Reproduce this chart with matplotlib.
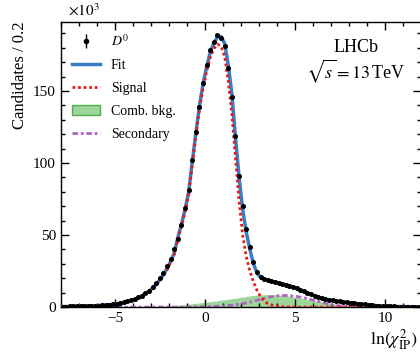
import numpy as np
import matplotlib
matplotlib.use("Agg")
import matplotlib.pyplot as plt
from matplotlib.patches import Patch
from matplotlib.ticker import MultipleLocator

plt.rcParams['font.family'] = 'serif'
plt.rcParams['font.serif'] = ['Liberation Serif', 'DejaVu Serif']
plt.rcParams['mathtext.fontset'] = 'stix'

# bin centres, bin width 0.2
x_bins = np.arange(-7.9, 12.0, 0.2)

# data (x10^3 candidates)
data = [0.4, 0.4, 0.5, 0.5, 0.6, 0.6, 0.7, 0.8, 0.9, 1.0,
        1.1, 1.3, 1.5, 1.8, 2.0, 2.4, 2.8, 3.3, 3.9, 4.7,
        5.6, 6.7, 8.0, 9.6, 11.5, 13.9, 16.6, 20.0, 24.0, 28.5,
        33.5, 40.0, 47.5, 57.0, 69.0, 81.0, 102.0, 121.5, 139.0, 155.5,
        168.0, 178.5, 184.0, 189.0, 187.0, 181.0, 166.0, 146.0, 119.0, 91.0,
        70.0, 54.5, 42.0, 31.5, 24.5, 21.0, 19.6, 18.8, 18.2, 17.5,
        16.9, 16.3, 15.6, 14.9, 14.1, 13.1, 12.0, 11.0, 10.0, 8.9,
        7.9, 7.0, 6.2, 5.6, 5.1, 4.6, 4.3, 3.9, 3.7, 3.4,
        3.1, 2.8, 2.5, 2.2, 1.9, 1.7, 1.4, 1.1, 0.9, 0.7,
        0.6, 0.5, 0.5, 0.4, 0.4, 0.3, 0.3, 0.3, 0.2, 0.2]

fit = [0.4, 0.4, 0.5, 0.5, 0.6, 0.6, 0.7, 0.8, 0.9, 1.0,
       1.1, 1.3, 1.5, 1.7, 2.0, 2.3, 2.7, 3.2, 3.8, 4.5,
       5.4, 6.5, 7.8, 9.3, 11.1, 13.3, 15.9, 19.0, 22.6, 26.8,
       31.8, 37.6, 48.5, 57.5, 68.0, 80.0, 101.0, 121.0, 140.0, 155.0,
       167.0, 177.0, 183.5, 187.5, 187.8, 183.0, 168.0, 148.0, 118.0, 90.0,
       68.0, 52.0, 40.0, 30.0, 23.5, 20.5, 19.3, 18.6, 18.0, 17.4,
       16.8, 16.2, 15.5, 14.8, 14.0, 13.0, 12.0, 11.0, 9.9, 8.8,
       7.8, 6.9, 6.1, 5.5, 5.0, 4.6, 4.2, 3.9, 3.6, 3.3,
       3.0, 2.7, 2.4, 2.1, 1.8, 1.7, 1.4, 1.1, 0.9, 0.7,
       0.6, 0.5, 0.5, 0.4, 0.4, 0.3, 0.3, 0.3, 0.2, 0.2]

signal = [0.4, 0.4, 0.5, 0.5, 0.6, 0.6, 0.7, 0.8, 0.9, 1.0,
          1.1, 1.3, 1.5, 1.7, 2.0, 2.3, 2.7, 3.2, 3.8, 4.5,
          5.4, 6.5, 7.7, 9.2, 11.0, 13.1, 15.6, 18.6, 22.1, 26.2,
          31.0, 36.6, 47.3, 56.1, 66.4, 78.2, 99.0, 118.8, 137.5, 152.2,
          163.8, 173.5, 179.5, 182.5, 181.0, 174.0, 157.0, 134.0, 104.0, 74.0,
          50.0, 35.0, 25.0, 17.5, 11.5, 7.0, 4.2, 2.5, 1.5, 0.9,
          0.5, 0.3, 0.2, 0.1, 0.1, 0.1, 0.0, 0.0, 0.0, 0.0,
          0.0, 0.0, 0.0, 0.0, 0.0, 0.0, 0.0, 0.0, 0.0, 0.0,
          0.0, 0.0, 0.0, 0.0, 0.0, 0.0, 0.0, 0.0, 0.0, 0.0,
          0.0, 0.0, 0.0, 0.0, 0.0, 0.0, 0.0, 0.0, 0.0, 0.0]

# background components on a coarser grid
x_bkg = np.arange(-8.0, 12.25, 0.5)
comb = [0, 0, 0, 0, 0, 0, 0, 0, 0,
        0.05, 0.2, 0.45, 0.75, 1.25, 1.9, 2.6, 3.3, 4.1, 4.9,
        5.8, 6.8, 7.8, 8.4, 8.7, 8.5, 7.9, 7.0, 5.9, 4.8,
        3.7, 2.6, 1.7, 1.0, 0.55, 0.3, 0.15, 0.08, 0.04, 0.02, 0.01, 0]
secondary = [0, 0, 0, 0, 0, 0, 0, 0, 0, 0, 0, 0, 0, 0,
             0.05, 0.15, 0.3, 0.5, 0.8, 1.3, 2.2, 3.4, 5.1, 6.8,
             7.8, 8.1, 7.6, 6.5, 4.9, 3.3, 1.8, 0.8, 0.35, 0.15, 0.05,
             0, 0, 0, 0, 0, 0]

data = np.array(data)
yerr = np.sqrt(data * 1000) / 1000

fig = plt.figure(figsize=(4.2, 3.53), dpi=100)
ax = fig.add_axes([0.145, 0.130, 0.857, 0.808])

ax.fill_between(x_bkg, comb, color='#9dd69a', linewidth=0, zorder=1)
ax.plot(x_bkg, secondary, color='#b062c0', linestyle=(0, (2, 1, 1, 1)), lw=2, zorder=2)
ax.plot(x_bins, fit, color='#3a7dc2', lw=2.5, zorder=3)
ax.plot(x_bins, signal, color='#e8191b', linestyle=(0, (1, 1)), lw=2, zorder=4)
ax.errorbar(x_bins, data, yerr=yerr, fmt='o', color='black', ms=2.6, elinewidth=1, zorder=5)

ax.set_xlim(-8, 12)
ax.set_ylim(0, 198)
ax.xaxis.set_major_locator(MultipleLocator(5))
ax.xaxis.set_minor_locator(MultipleLocator(1))
ax.yaxis.set_major_locator(MultipleLocator(50))
ax.yaxis.set_minor_locator(MultipleLocator(10))
ax.tick_params(which='both', direction='in', top=True, right=True, labelsize=11)
ax.tick_params(which='major', length=6, width=1)
ax.tick_params(which='minor', length=3, width=1)
for s in ax.spines.values():
    s.set_linewidth(1)

ax.set_ylabel('Candidates / 0.2', fontsize=12, loc='top')
ax.set_xlabel(r'$\ln(\chi^2_{\rm IP})$', fontsize=13, loc='right')
ax.xaxis.set_label_coords(0.99, -0.072)
ax.text(0.02, 1.01, r'$\times10^{3}$', transform=ax.transAxes, fontsize=11, va='bottom', ha='left')

ax.text(0.82, 0.91, 'LHCb', transform=ax.transAxes, fontsize=13, ha='center', va='center')
ax.text(0.82, 0.825, r'$\sqrt{s} = 13\,$TeV', transform=ax.transAxes, fontsize=13, ha='center', va='center')

h_data = ax.errorbar([], [], yerr=[], fmt='o', color='black', ms=3, elinewidth=1)
h_fit, = ax.plot([], [], color='#3a7dc2', lw=2.5)
h_sig, = ax.plot([], [], color='#e8191b', linestyle=(0, (1, 1)), lw=2)
h_comb = Patch(facecolor='#9dd69a', edgecolor='#4caf50')
h_sec, = ax.plot([], [], color='#b062c0', linestyle=(0, (2, 1, 1, 1)), lw=2)
ax.legend([h_data, h_fit, h_sig, h_comb, h_sec],
          [r'$D^0$', 'Fit', 'Signal', 'Comb. bkg.', 'Secondary'],
          loc='upper left', frameon=False, fontsize=10, handlelength=2.0,
          labelspacing=0.72, borderaxespad=0.4)

fig.savefig('out.png', dpi=100)
